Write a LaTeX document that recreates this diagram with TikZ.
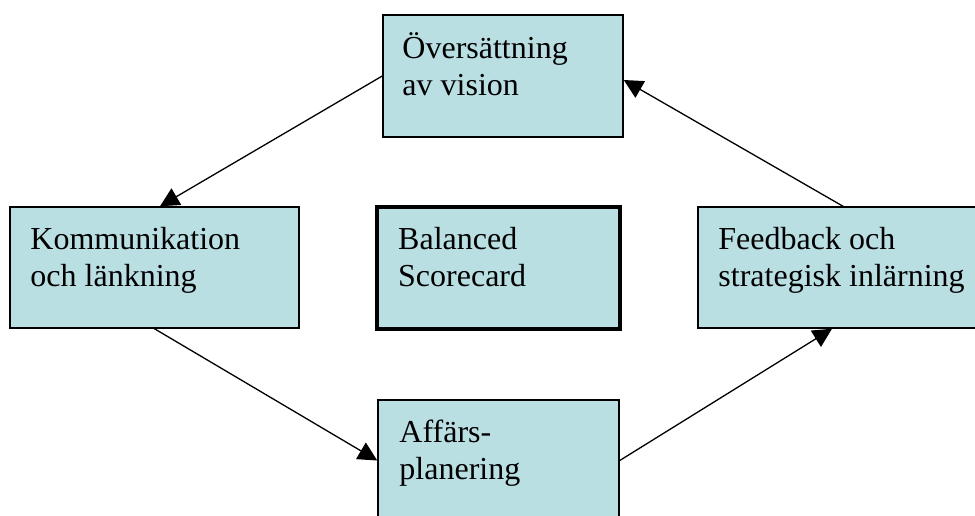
\documentclass[tikz,border=0pt]{standalone}
\usepackage{fontspec}
\setmainfont{Liberation Serif}
\usetikzlibrary{arrows.meta,calc}
\definecolor{boxfill}{RGB}{185,223,227}
\tikzset{
  stage/.style={draw=black, line width=1.5pt, fill=boxfill, rectangle, inner sep=0pt},
  corebox/.style={stage, line width=4pt},
  boxtext/.style={anchor=base west, inner sep=0pt},
  flow/.style={line width=1.3pt, -{Triangle[length=19pt,width=19pt]}}
}
\newcommand{\twolines}[2]{\parbox[t]{300pt}{\fontsize{32}{37}\selectfont\raggedright #1\\#2}}
\begin{document}
\begin{tikzpicture}[x=1pt,y=-1pt]
\useasboundingbox (0,0) rectangle (975,516);
\clip (0,0) rectangle (975,516);
% stage boxes
\node[stage, minimum width=240pt, minimum height=122pt] (vision) at (503,76) {};
\node[stage, minimum width=289pt, minimum height=121pt] (komm) at (154.5,267.5) {};
\node[corebox, minimum width=243pt, minimum height=122pt] (bsc) at (498.5,268) {};
\node[stage, minimum width=287pt, minimum height=121pt] (feed) at (841.5,267.5) {};
\node[stage, minimum width=241pt, minimum height=121pt] (plan) at (498.5,460.5) {};
% box texts
\node[boxtext] (tvision) at ($(vision.north west)+(20,44)$) {\twolines{Översättning}{av vision}};
\node[boxtext] (tkomm) at ($(komm.north west)+(21,43)$) {\twolines{Kommunikation}{och länkning}};
\node[boxtext] (tbsc) at ($(bsc.north west)+(23,44)$) {\twolines{Balanced}{Scorecard}};
\node[boxtext] (tfeed) at ($(feed.north west)+(21,43)$) {\twolines{Feedback och}{strategisk inlärning}};
\node[boxtext] (tplan) at ($(plan.north west)+(22,43)$) {\twolines{Affärs-}{planering}};
% cycle of arrows
\draw[flow] (vision.west) -- ($(komm.north)+(5.5,0)$);
\draw[flow] (komm.south) -- (plan.west);
\draw[flow] (plan.east) -- ($(feed.south)+(-9.5,0)$);
\draw[flow] ($(feed.north)+(1.5,0)$) -- ($(vision.east)+(0,4)$);
\end{tikzpicture}
\end{document}
